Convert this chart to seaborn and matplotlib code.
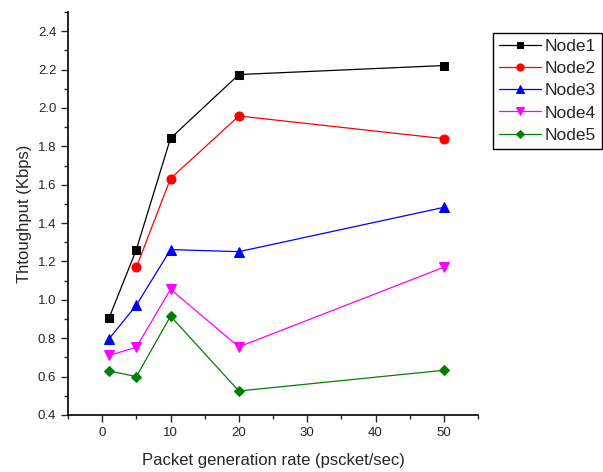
import matplotlib
matplotlib.use('Agg')
import matplotlib.pyplot as plt
import numpy as np
import pandas as pd
import seaborn as sns
from matplotlib.ticker import MultipleLocator

# 数据
rates = [1, 5, 10, 20, 50]
node1 = [0.905, 1.262, 1.842, 2.174, 2.221]
node2 = [np.nan, 1.169, 1.632, 1.958, 1.840]
node3 = [0.797, 0.972, 1.262, 1.251, 1.482]
node4 = [0.710, 0.753, 1.055, 0.755, 1.170]
node5 = [0.630, 0.600, 0.915, 0.525, 0.633]

series = {'Node1': node1, 'Node2': node2, 'Node3': node3,
          'Node4': node4, 'Node5': node5}
colors = ['black', 'red', 'blue', 'magenta', 'green']
markers = ['s', 'o', '^', 'v', 'D']
sizes = [5.5, 6.5, 7, 7, 5.5]

sns.set_style('ticks')
plt.rcParams['font.family'] = ['Liberation Sans', 'DejaVu Sans']

fig = plt.figure(figsize=(6.03, 4.72), dpi=100)
ax = fig.add_axes([0.1128, 0.1208, 0.68, 0.8538])

for (name, vals), c, m, s in zip(series.items(), colors, markers, sizes):
    df = pd.DataFrame({'rate': rates, 'thr': vals}).dropna()
    sns.lineplot(data=df, x='rate', y='thr', ax=ax, color=c, marker=m,
                 markersize=s, markeredgecolor=c, linewidth=0.9, label=name)

ax.set_xlim(-5, 55)
ax.set_ylim(0.4, 2.5)
ax.xaxis.set_major_locator(MultipleLocator(10))
ax.xaxis.set_minor_locator(MultipleLocator(5))
ax.yaxis.set_minor_locator(MultipleLocator(0.1))
ax.set_yticks(np.arange(0.4, 2.41, 0.2))
ax.yaxis.set_major_formatter(plt.FormatStrFormatter('%.1f'))
ax.tick_params(which='major', direction='out', length=5, width=1, labelsize=9.5)
ax.tick_params(which='minor', direction='out', length=3, width=1)
for sp in ['top', 'right']:
    ax.spines[sp].set_visible(False)
for sp in ['left', 'bottom']:
    ax.spines[sp].set_linewidth(1.2)
    ax.spines[sp].set_color('black')

ax.set_xlabel('Packet generation rate (pscket/sec)', fontsize=12, labelpad=10)
ax.set_ylabel('Thtoughput (Kbps)', fontsize=12, labelpad=4)

leg = ax.legend(loc='upper left', bbox_to_anchor=(493 / 603, 1 - 33 / 472),
                bbox_transform=fig.transFigure, fontsize=12.5, frameon=True,
                fancybox=False, edgecolor='black', framealpha=1,
                handlelength=2.4, labelspacing=0.4, borderpad=0.35,
                handletextpad=0.25, borderaxespad=0, markerscale=0.8)
leg.get_frame().set_linewidth(1)

fig.savefig('out.png', dpi=100)
